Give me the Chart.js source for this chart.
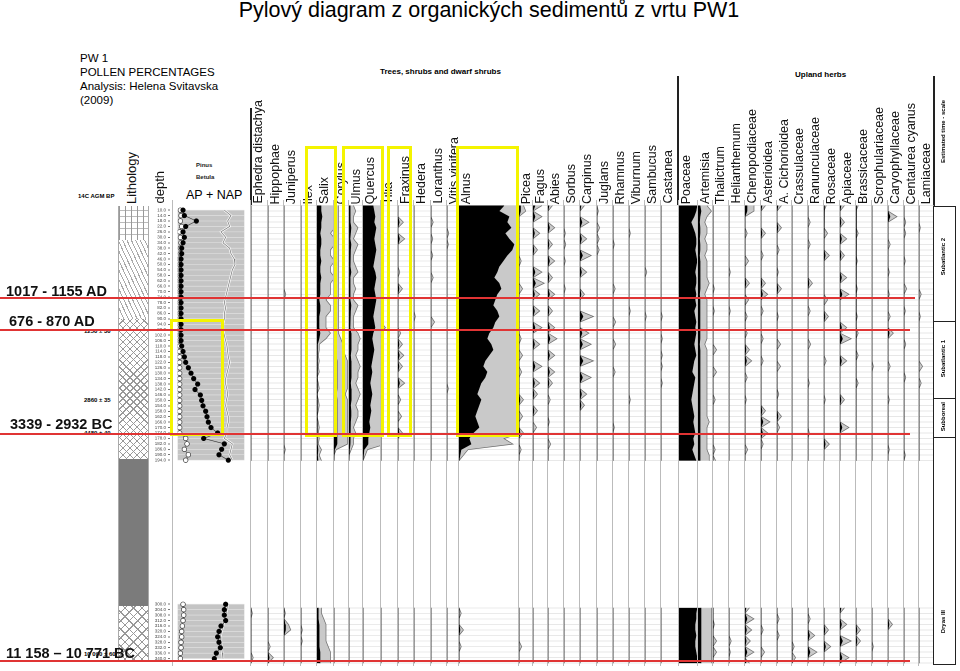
<!DOCTYPE html>
<html><head><meta charset="utf-8">
<script src="https://cdn.jsdelivr.net/npm/chart.js@4.4.1/dist/chart.umd.min.js"></script>
<style>
body{margin:0;width:960px;height:671px;background:#fff;position:relative;overflow:hidden;font-family:"Liberation Sans",Arial,sans-serif}
.a{position:absolute;white-space:nowrap}
.v{position:absolute;writing-mode:vertical-rl;transform:rotate(180deg);white-space:nowrap;font-size:12.5px;line-height:14px;color:#111}
.col{position:absolute;top:200px;height:466px;border-left:1px solid #bbb;box-sizing:border-box}
.red{position:absolute;height:1.5px;background:#e03434;left:0}
.rl{position:absolute;font-weight:bold;font-size:14.5px;color:#111}
.yb{position:absolute;border:3px solid #f4f400;box-sizing:border-box}
.ts{position:absolute;left:933px;width:23px;border:1.5px solid #222;box-sizing:border-box}
.tl{position:absolute;writing-mode:vertical-rl;transform:rotate(180deg);font-size:6px;font-weight:bold;white-space:nowrap;left:940px}
</style></head><body>
<div class="a" style="left:0;width:960px;top:-2px;text-align:center;font-size:21.5px;padding-left:18px;box-sizing:border-box">Pylový diagram z organických sedimentů z vrtu PW1</div>
<div class="a" style="left:80px;top:51px;font-size:11.5px;line-height:14px">PW 1<br>POLLEN PERCENTAGES<br>Analysis: Helena Svitavska<br>(2009)</div>
<div class="a" style="left:380px;top:67px;font-size:8px;font-weight:bold">Trees, shrubs and dwarf shrubs</div>
<div class="a" style="left:795px;top:70px;font-size:8px;font-weight:bold">Upland herbs</div>
<div class="a" style="left:78px;top:193px;font-size:6px;font-weight:bold">14C AGM BP</div>
<div class="a" style="left:196px;top:162px;font-size:6px;font-weight:bold;color:#222">Pinus</div>
<div class="a" style="left:196px;top:174px;font-size:6px;font-weight:bold;color:#222">Betula</div>
<div class="a" style="left:186px;top:188px;font-size:12.5px">AP + NAP</div>
<div class="a" style="left:84px;top:328px;font-size:6px;font-weight:bold">1250 ± 30</div>
<div class="a" style="left:84px;top:397px;font-size:6px;font-weight:bold">2860 ± 35</div>
<div class="a" style="left:84px;top:430px;font-size:6px;font-weight:bold">4480 ± 40</div>
<div class="a" style="left:84px;top:651px;font-size:6px;font-weight:bold">10 090 ± 60</div>
<div style="position:absolute;left:250px;top:108px;width:1.5px;height:97px;background:#222"></div>
<div style="position:absolute;left:677px;top:76px;width:1.5px;height:129px;background:#222"></div>
<div style="position:absolute;left:933px;top:76px;width:1.5px;height:130px;background:#222"></div>
<div id="lith"></div>
<div id="cols"></div>
<div id="labels"></div>
<div class="ts" style="top:206px;height:116px"></div>
<div class="ts" style="top:321px;height:78px"></div>
<div class="ts" style="top:398px;height:40px"></div>
<div class="ts" style="top:437px;height:228px"></div>
<div class="tl" style="top:100px">Estimated time - scale</div>
<div class="tl" style="top:238px">Subatlantic 2</div>
<div class="tl" style="top:340px">Subatlantic 1</div>
<div class="tl" style="top:402px">Subboreal</div>
<div class="tl" style="top:610px">Dryas III</div>
<div class="yb" style="left:170px;top:319px;width:54px;height:117px"></div>
<div class="yb" style="left:305px;top:146px;width:32px;height:291px"></div>
<div class="yb" style="left:342px;top:146px;width:42px;height:291px"></div>
<div class="yb" style="left:387px;top:146px;width:25px;height:291px"></div>
<div class="yb" style="left:456px;top:146px;width:63px;height:291px"></div>
<div class="red" style="top:297px;width:915px"></div>
<div class="red" style="top:329px;width:910px"></div>
<div class="red" style="top:433px;width:910px"></div>
<div class="red" style="top:660px;width:910px"></div>
<div class="rl" style="left:6px;top:283px">1017 - 1155 AD</div>
<div class="rl" style="left:9px;top:313px">676 - 870 AD</div>
<div class="rl" style="left:10px;top:416px">3339 - 2932 BC</div>
<div class="rl" style="left:6px;top:645px">11 158 – 10 771 BC</div>
<script>
// ---------- DATA ----------
const upperDepths=[10,14,18,22,26,30,34,38,42,46,50,54,58,62,66,70,74,78,82,86,90,94,98,102,106,110,114,118,122,126,130,134,138,142,146,150,154,158,162,166,170,174,178,182,186,190,194];
const lowerDepths=[300,304,308,312,316,320,324,328,332,336,340];

const pinusU=[8,10,28,12,8,10,8,6,6,5,5,5,5,5,5,5,5,5,5,5,5,5,5,5,5,6,8,10,12,16,20,24,30,26,34,36,38,42,44,46,50,60,39,70,66,62,76];
const pinusL=[72,70,70,72,65,62,60,62,64,58,55];
const betulaU=[4,5,4,6,3,4,5,4,4,3,3,3,3,3,3,3,3,3,3,3,3,3,3,3,3,3,3,3,3,3,3,3,3,3,3,3,3,3,3,3,3,3,12,14,10,16,12];
const betulaL=[8,9,9,8,7,6,6,5,5,4,4];
const apU=[70,80,75,78,65,72,68,78,80,85,86,82,80,78,76,74,72,70,72,70,70,68,68,70,72,74,75,76,78,76,74,72,72,74,75,73,72,74,76,76,74,74,70,82,80,78,82];
const apL=[75,74,72,70,68,66,64,65,66,67,68];

const alnusU=[45,40,50,48,52,46,50,55,53,48,44,40,38,35,40,42,38,36,34,38,40,36,34,30,28,32,34,30,26,24,28,26,22,20,18,22,20,18,16,18,20,14,10,12,2,1,0];
const alnusL=[0,0.5,0,0,1,0,0,0.5,0,0,0];
const quercusU=[10,11,12,11,13,12,11,12,13,12,11,10,12,13,12,11,12,13,12,11,10,11,12,10,9,10,11,10,9,8,9,8,7,8,9,8,7,8,7,6,7,6,5,5,1,0.5,0];
const quercusL=[0,0,0,0,0,0,0,0,0,0,0];
const ulmusU=[1,1.5,1,1,2,1.5,1,2,1.5,1,1,1.5,2,1,1,1.5,1,1,2,1.5,1,1,1,2,2.5,2,2,1.5,2,2.5,2,2,1.5,2,2.5,2,1.5,2,2,1.5,1,1.5,1,1,0.5,0,0];
const ulmusL=[0,0,0,0,0,0,0,0,0,0,0];
const corylusU=[1,1,1,1,1,1,1,1,1,1,1,1,1,1,1,1,1,1,1,1,1,1,1,1,1.5,2,2,2.5,3,3,3,3,3,3,2.5,3,3,3,3,3,3,3,3,3,0.5,0,0];
const corylusL=[0,0,0,0,0,0,0,0,0,0,0];
const salixU=[4,4,5,4,4,3,4,4,3,3,4,3,3,4,3,3,3,2,3,3,2,2,2,3,2,0.5,0.5,0.3,0.5,0.3,0.5,0,0.3,0.5,0,0.3,0.5,0.3,0,0.3,0.5,0.3,0.5,0.3,1,0.5,1];
const salixL=[1,1,1.5,2,2,2,2,2.5,3,3,3];
const poaceaeU=[18,17,15,12,14,16,17,17,16,17,18,17,16,17,17,16,17,16,17,15,16,17,16,17,16,15,16,17,15,14,13,16,15,14,13,12,13,14,15,14,15,16,14,15,13,15,17];
const poaceaeL=[18,17,17,16,16,17,16,16,17,18,18];
const artemisiaU=[2,3,2,1.5,2,2,1.5,2,2,1.5,2,2,2,2,2.5,2,1.5,2,2,2,2,2,2,2,2,1.5,2,2,2,2,2,2,2,2,2,2,2,2,2,2.5,2,2,2,2,2,2.5,2.5];
const artemisiaL=[3,3,3,3,3,3,3,3,3,3,3];

// sparse taxa: [depth, %]
const ephedraPts=[[304,0.3],[336,0.5]];
const hippophaePts=[[328,0.5],[336,1.2]];
const juniperusPts=[[74,0.4],[186,0.3],[304,0.3],[312,1],[316,1.5]];
const ilexPts=[[316,0.3],[324,0.3]];
const tiliaPts=[[10,0.5],[98,1],[130,0.5],[150,0.3]];
const fraxinusPts=[[22,1.2],[34,1.5],[58,0.4],[70,1.0],[102,0.6],[110,1],[118,1.3],[126,1],[138,1.5],[150,0.6],[162,0.8],[174,1]];
const hederaPts=[[90,0.3]];
const loranthusPts=[[22,0.5],[34,0.4],[46,0.4],[62,0.5],[94,0.8]];
const vitisPts=[[30,0.4],[38,0.3],[142,0.3]];
const piceaPts=[[10,1],[14,1.5],[50,0.5],[70,0.8],[106,0.5],[118,0.8],[130,0.6],[150,1],[162,0.8],[174,1],[186,0.5],[328,0.6]];
const fagusPts=[[10,2],[18,2],[30,1.5],[42,1],[58,2],[66,2.5],[74,1.5],[86,1.5],[98,2],[110,1.5],[126,2],[138,1.5],[146,1],[158,1],[170,0.8]];
const abiesPts=[[10,1],[26,1.5],[38,1],[50,1.5],[62,1],[74,1.5],[86,1],[98,1.5],[106,2],[118,1.5],[130,1.5],[138,1],[150,0.5],[166,0.3],[182,0.6]];
const sorbusPts=[[30,0.3],[38,0.4],[50,0.3],[70,0.3]];
const carpinusPts=[[10,1],[22,2],[34,1.5],[46,2.5],[58,1.5],[74,1],[90,3],[102,2],[110,2.5],[122,3],[134,2.5],[146,1.5],[154,1]];
const juglansPts=[[14,0.3],[26,0.6],[34,0.5],[42,0.5]];
const rhamnusPts=[[38,0.3],[70,0.5],[94,0.6],[110,0.6],[130,0.5],[170,0.3]];
const viburnumPts=[[30,0.3],[86,0.3],[150,0.3]];
const sambucusPts=[[58,0.4],[90,0.3]];
const castaneaPts=[[90,0.3],[106,0.3],[118,0.3],[126,0.3],[138,0.3]];
const thalictrumPts=[[70,0.3],[86,0.3],[114,0.8],[130,0.8],[150,0.5],[186,0.5],[194,0.6],[312,0.3],[324,0.8],[332,0.8]];
const helianthemumPts=[[58,0.3],[86,0.3],[324,0.5],[332,0.3]];
const chenopodPts=[[10,2],[14,2],[30,0.5],[50,0.8],[66,1],[78,0.8],[90,0.5],[102,0.5],[114,1],[122,1.5],[134,0.5],[150,0.3],[186,0.6],[300,1],[308,2],[316,1.5],[324,1.2],[332,2],[340,1]];
const asterPts=[[10,1],[30,1],[46,0.5],[66,1],[74,1.5],[86,0.5],[106,0.5],[122,0.5],[158,1],[166,2],[174,1.5],[182,0.5],[316,0.5],[332,0.8]];
const cichorPts=[[10,1],[26,1],[42,0.5],[58,0.3],[70,1],[90,0.3],[110,0.8],[126,0.8],[146,0.4],[162,1],[170,0.6],[308,0.5],[320,0.5]];
const crassPts=[[328,0.5],[336,0.8]];
const ranunPts=[[22,0.5],[38,0.5],[66,1],[86,0.5],[110,0.6],[138,0.3],[174,0.3],[308,0.5],[320,1.5],[332,2]];
const rosaPts=[[10,0.5],[30,0.8],[46,1.2],[78,0.8],[90,1],[122,0.5],[150,0.3],[182,1.2],[316,1],[328,1.5]];
const apiaPts=[[10,1],[22,1],[34,1.5],[46,1],[62,1.5],[74,2],[98,1.5],[106,2.5],[122,1.5],[150,1],[170,2],[300,1],[312,1.5],[324,2.5],[336,2]];
const brassPts=[[10,0.5],[30,0.5],[50,0.3],[70,0.3],[90,0.3],[102,0.5],[118,0.5],[138,0.5],[316,1],[324,1]];
const scrophPts=[[126,0.3],[328,0.3]];
const caryoPts=[[18,2],[38,0.5],[58,0.3],[74,0.3],[90,0.5],[102,1.2],[126,0.5],[150,0.3],[186,0.3],[312,1]];
const centPts=[[22,0.4],[30,0.4],[50,0.3],[70,0.6],[86,0.3],[110,0.4],[134,0.4],[190,0.3]];
const lamiPts=[[26,0.3],[74,0.5],[90,0.3],[126,0.8],[138,0.5]];

const taxa=[
 ["Ephedra distachya",250,17,ephedraPts],["Hippophae",267,16,hippophaePts],["Juniperus",283,17,juniperusPts],["Ilex",300,16,ilexPts],
 ["Salix",316,17,[salixU,salixL]],["Corylus",333,15,[corylusU,corylusL]],["Ulmus",348,14,[ulmusU,ulmusL]],["Quercus",362,18,[quercusU,quercusL]],
 ["Tilia",380,17,tiliaPts],["Fraxinus",397,16,fraxinusPts],["Hedera",413,17,hederaPts],["Loranthus",430,16,loranthusPts],["Vitis vinifera",446,12,vitisPts],
 ["Alnus",458,60,[alnusU,alnusL]],["Picea",518,14,piceaPts],["Fagus",532,15,fagusPts],["Abies",547,16,abiesPts],["Sorbus",563,16,sorbusPts],
 ["Carpinus",579,17,carpinusPts],["Juglans",596,16,juglansPts],["Rhamnus",612,16,rhamnusPts],["Viburnum",628,16,viburnumPts],["Sambucus",644,16,sambucusPts],
 ["Castanea",660,18,castaneaPts],["Poaceae",678,19,[poaceaeU,poaceaeL]],["Artemisia",697,15,[artemisiaU,artemisiaL]],["Thalictrum",712,16,thalictrumPts],
 ["Helianthemum",728,16,helianthemumPts],["Chenopodiaceae",744,16,chenopodPts],["Asterioidea",760,16,asterPts],["A. Cichorioidea",776,15,cichorPts],
 ["Crassulaceae",791,16,crassPts],["Ranunculaceae",807,16,ranunPts],["Rosaceae",823,16,rosaPts],["Apiaceae",839,16,apiaPts],["Brassicaceae",855,16,brassPts],
 ["Scrophulariaceae",871,16,scrophPts],["Caryophyllaceae",887,16,caryoPts],["Centaurea cyanus",903,15,centPts],["Lamiaceae",918,15,lamiPts]
];
const EXAG=4.5;
// ---------- helpers ----------
const allDepths=upperDepths.concat(lowerDepths);
function series(u,l,f){const a=u.map((v,i)=>({x:v*f,y:upperDepths[i]}));a.push({x:null,y:247});return a.concat(l.map((v,i)=>({x:v*f,y:lowerDepths[i]})));}
function fromPts(p){const m=new Map(p);return [upperDepths.map(d=>m.get(d)||0),lowerDepths.map(d=>m.get(d)||0)];}
const TOP=200,H=466,DMIN=6,DMAX=342;
function yScale(grid){return {type:'linear',reverse:true,min:DMIN,max:DMAX,display:true,
  afterBuildTicks:s=>{s.ticks=allDepths.map(v=>({value:v}));},afterFit:s=>{s.width=0;},
  ticks:{display:false},border:{display:false},grid:{display:grid,color:'#d8d8d8',lineWidth:0.6,drawTicks:false}};}
function mkCanvas(x,w,border){const d=document.createElement('div');d.className='col';d.style.left=x+'px';d.style.width=w+'px';if(!border)d.style.borderLeft='none';
 const c=document.createElement('canvas');c.width=w;c.height=H;d.appendChild(c);document.getElementById('cols').appendChild(d);return c;}
const base={responsive:false,animation:false,devicePixelRatio:2,layout:{padding:0},plugins:{legend:{display:false},tooltip:{enabled:false}},indexAxis:'y'};

taxa.forEach(([name,x,w,dat])=>{
 const [u,l]=Array.isArray(dat[0])&&dat[0].length===upperDepths.length?dat:fromPts(dat);
 const c=mkCanvas(x,w,true);
 new Chart(c,{type:'line',data:{datasets:[
  {data:series(u,l,EXAG),fill:'origin',backgroundColor:'#c9c9c9',borderColor:'#6a6a6a',borderWidth:0.7,pointRadius:0,tension:0,order:2},
  {data:series(u,l,1),fill:'origin',backgroundColor:'#000',borderColor:'#000',borderWidth:0.6,pointRadius:0,tension:0,order:1}]},
  options:{...base,scales:{x:{type:'linear',min:0,max:w,display:false},y:yScale(true)}}});
 const lb=document.createElement('div');lb.className='v';lb.textContent=name;lb.style.left=(x+1)+'px';lb.style.bottom=(671-204)+'px';
 document.getElementById('labels').appendChild(lb);
});
[['Lithology',125],['depth',153]].forEach(([t,x])=>{const lb=document.createElement('div');lb.className='v';lb.textContent=t;lb.style.left=x+'px';lb.style.bottom=(671-204)+'px';lb.style.fontSize='13px';document.getElementById('labels').appendChild(lb);});

// AP + NAP column
const secBg={id:'secbg',beforeDatasetsDraw(ch){const {ctx,chartArea:a,scales:{y}}=ch;ctx.save();ctx.fillStyle='#c4c4c4';
 [[upperDepths[0],upperDepths[upperDepths.length-1]],[lowerDepths[0],lowerDepths[lowerDepths.length-1]]].forEach(([d0,d1])=>{const y0=y.getPixelForValue(d0),y1=y.getPixelForValue(d1);ctx.fillRect(a.left,y0,a.width,y1-y0);});
 ctx.strokeStyle='#e6e6e6';ctx.lineWidth=0.6;allDepths.forEach(d=>{const p=y.getPixelForValue(d);ctx.beginPath();ctx.moveTo(a.left,p);ctx.lineTo(a.right,p);ctx.stroke();});ctx.restore();}};
const apC=mkCanvas(172,76,true);
new Chart(apC,{type:'line',data:{datasets:[
 {data:series(apU,apL,1),borderColor:'#fff',borderWidth:2.2,pointRadius:0,fill:false,order:4},
 {data:series(apU,apL,1),borderColor:'#777',borderWidth:0.7,pointRadius:0,fill:false,order:3},
 {data:series(betulaU,betulaL,1),borderColor:'#555',borderWidth:0.6,pointRadius:2.3,pointBackgroundColor:'#fff',pointBorderColor:'#333',pointBorderWidth:0.7,fill:false,order:2},
 {data:series(pinusU,pinusL,1),borderColor:'#333',borderWidth:0.6,pointRadius:2.3,pointBackgroundColor:'#000',pointBorderColor:'#000',fill:false,order:1}]},
 options:{...base,scales:{x:{type:'linear',min:0,max:100,display:false},y:yScale(false)}},plugins:[secBg]});

// depth column: tiny depth labels
const dC=mkCanvas(150,22,false);
new Chart(dC,{type:'line',data:{datasets:[{data:allDepths.map(d=>({x:null,y:d})),pointRadius:0}]},options:{...base,scales:{x:{type:'linear',min:0,max:1,display:false},
 y:{type:'linear',position:'left',reverse:true,min:DMIN,max:DMAX,afterBuildTicks:s=>{s.ticks=allDepths.map(v=>({value:v}));},afterFit:s=>{s.width=20;},
  ticks:{autoSkip:false,font:{size:4.5},color:'#444',padding:2,callback:v=>v.toFixed(1)},border:{display:false},grid:{display:true,drawOnChartArea:false,tickLength:2,color:'#777'}}}}});

// lithology (CSS)
const L=document.getElementById('lith');
[[206,240,'repeating-linear-gradient(90deg,#999 0 1px,transparent 1px 6px),repeating-linear-gradient(0deg,transparent 0 5px,#bbb 5px 6px)'],
 [240,319,'repeating-linear-gradient(65deg,#aaa 0 1px,transparent 1px 4px)'],
 [319,459,'repeating-linear-gradient(45deg,#999 0 1px,transparent 1px 5px),repeating-linear-gradient(-45deg,#999 0 1px,transparent 1px 5px)'],
 [459,606,'#7b7b7b'],
 [606,662,'repeating-linear-gradient(45deg,#999 0 1px,transparent 1px 6px),repeating-linear-gradient(-45deg,#999 0 1px,transparent 1px 6px)']
].forEach(([t,b,bg])=>{const d=document.createElement('div');d.style.cssText=`position:absolute;left:118px;width:31px;top:${t}px;height:${b-t}px;background:${bg};border-left:1px solid #aaa;border-right:1px solid #aaa;box-sizing:border-box`;L.appendChild(d);});
</script>
</body></html>
